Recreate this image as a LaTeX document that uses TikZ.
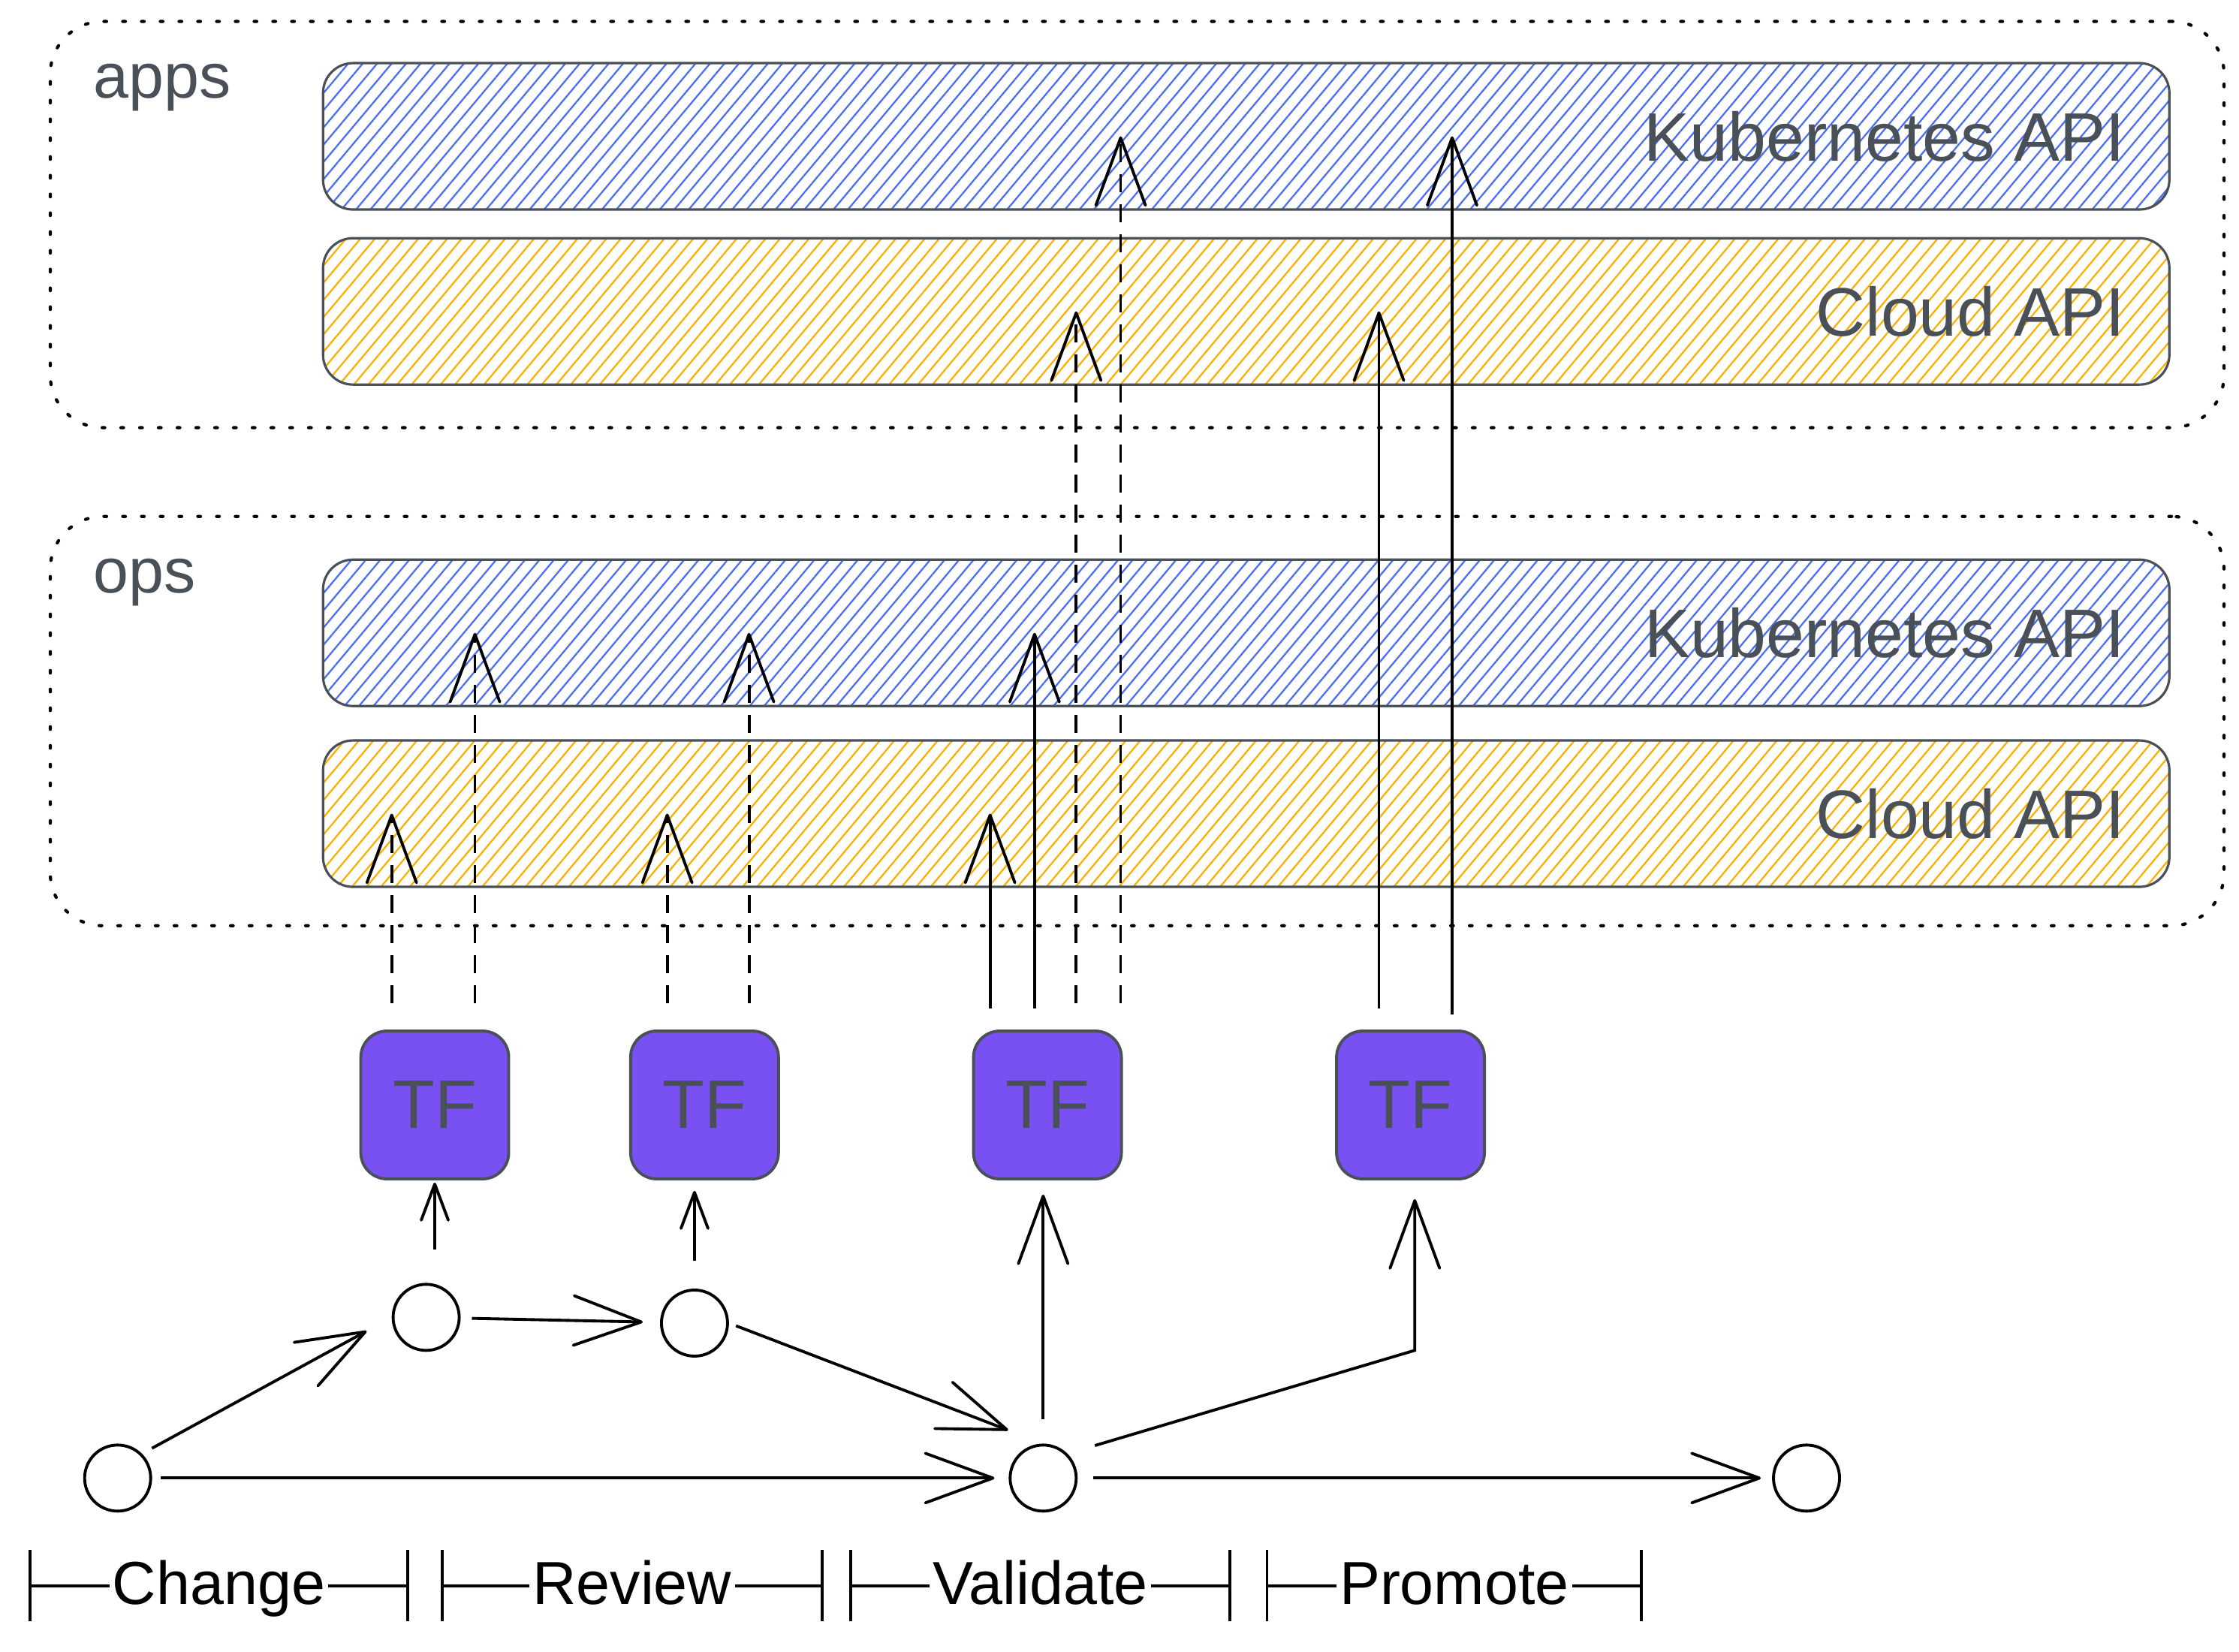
\documentclass[tikz,border=0pt]{standalone}
\usepackage{fontspec}
\setmainfont{Liberation Sans}
\usetikzlibrary{arrows.meta,positioning,patterns.meta,calc}

\definecolor{k8sblue}{HTML}{4C6EF5}
\definecolor{cloudyellow}{HTML}{FAB005}
\definecolor{tfviolet}{HTML}{7950F2}
\definecolor{inkgray}{HTML}{495057}

\tikzset{
  zonebox/.style={draw=black, line width=1.2pt, dash pattern=on 0.35mm off 2.15mm, line cap=round,
    rounded corners=7mm, minimum width=289.5mm, inner sep=0pt},
  zonelabel/.style={text=inkgray, font=\fontsize{24}{28}\selectfont, anchor=west, inner sep=0pt},
  apibar/.style={draw=inkgray, line width=0.9pt, rounded corners=4mm, minimum width=245.9mm,
    minimum height=19.5mm, inner sep=0pt},
  k8sbar/.style={apibar, pattern={Lines[angle=50,distance=4.2pt,line width=0.65pt]}, pattern color=k8sblue},
  cloudbar/.style={apibar, pattern={Lines[angle=50,distance=4.2pt,line width=0.65pt]}, pattern color=cloudyellow},
  apilabel/.style={text=inkgray, font=\fontsize{26}{30}\selectfont, inner sep=0pt},
  tfbox/.style={draw=inkgray, fill=tfviolet, line width=1.1pt, rounded corners=3.5mm, minimum size=19.7mm,
    text=inkgray, font=\fontsize{26}{30}\selectfont},
  stage/.style={draw, circle, line width=1.1pt, minimum size=8.8mm, inner sep=0pt},
  flow/.style={line width=1.1pt, -{Straight Barb[length=9mm,width=6.6mm,round]}},
  trigger/.style={line width=1.1pt, -{Straight Barb[length=4.8mm,width=3.6mm,round]}},
  plan/.style={flow, dash pattern=on 2.4mm off 1.6mm},
  phase/.style={font=\fontsize{23}{27}\selectfont, inner sep=1pt, anchor=base},
  phaseline/.style={line width=1.1pt, -{Bar[width=9.5mm]}},
}

\begin{document}
\begin{tikzpicture}[x=0.1911mm, y=-0.1911mm]
  \useasboundingbox (0,0) rectangle (1560.4,1150.7);

  \node[zonebox, minimum height=54.1mm] (apps) at (792.5,156.5) {};
  \node[zonelabel] (appslbl) at (65,61) {apps};
  \node[k8sbar] (appsk8s) at (868.5,95) {};
  \node[apilabel, left=6mm of appsk8s.east] {Kubernetes API};
  \node[cloudbar] (appscloud) at (868.5,217) {};
  \node[apilabel, left=6mm of appscloud.east] {Cloud API};

  \node[zonebox, minimum height=54.5mm] (ops) at (792.5,502.5) {};
  \node[zonelabel] (opslbl) at (65,406) {ops};
  \node[k8sbar] (opsk8s) at (868.5,441) {};
  \node[apilabel, left=6mm of opsk8s.east] {Kubernetes API};
  \node[cloudbar] (opscloud) at (868.5,567) {};
  \node[apilabel, left=6mm of opscloud.east] {Cloud API};

  \node[tfbox] (tf1) at (303,770) {TF};
  \node[tfbox] (tf2) at (491,770) {TF};
  \node[tfbox] (tf3) at (730,770) {TF};
  \node[tfbox] (tf4) at (983,770) {TF};

  \coordinate (a1) at (273,699);
  \coordinate (a2) at (331,699);
  \coordinate (b1) at (465,699);
  \coordinate (b2) at (522,699);
  \coordinate (v1) at (690,703);
  \coordinate (v2) at (721,703);
  \coordinate (v3) at (750,699);
  \coordinate (v4) at (781,699);
  \coordinate (p1) at (961,703);
  \coordinate (p2) at (1012,707);

  \draw[plan] (a1) -- (a1 |- opscloud);
  \draw[plan] (a2) -- (a2 |- opsk8s);
  \draw[plan] (b1) -- (b1 |- opscloud);
  \draw[plan] (b2) -- (b2 |- opsk8s);
  \draw[flow] (v1) -- (v1 |- opscloud);
  \draw[flow] (v2) -- (v2 |- opsk8s);
  \draw[plan] (v3) -- (v3 |- appscloud);
  \draw[plan] (v4) -- (v4 |- appsk8s);
  \draw[flow] (p1) -- (p1 |- appscloud);
  \draw[flow] (p2) -- (p2 |- appsk8s);

  \node[stage] (cstart) at (82,1030) {};
  \node[stage] (cchange) at (297,918) {};
  \node[stage] (creview) at (484,922) {};
  \node[stage] (cvalid) at (727,1030) {};
  \node[stage] (cdone) at (1259,1030) {};
  \coordinate (bend4) at (986,941);

  \draw[flow, shorten <=1.5mm, shorten >=3.8mm] (cstart.north east) -- (cchange.west);
  \draw[flow, shorten <=1.1mm, shorten >=1.9mm] (cstart) -- (cvalid);
  \draw[flow, shorten <=1.5mm, shorten >=2.3mm] (cchange) -- (creview);
  \draw[flow, shorten <=1mm, shorten >=5mm] (creview.east) -- (cvalid.north);
  \draw[flow, shorten <=2.1mm, shorten >=1.5mm] (cvalid) -- (cdone);
  \draw[trigger, shorten <=4.4mm, shorten >=0.3mm] (tf1.south |- cchange.north) -- (tf1.south);
  \draw[trigger, shorten <=3.7mm, shorten >=1.4mm] (creview.north) -- (creview.north |- tf2.south);
  \draw[flow, shorten <=3.2mm, shorten >=1.9mm] (cvalid.north) -- (cvalid.north |- tf3.south);
  \draw[flow, shorten <=3.8mm, shorten >=2.5mm] (cvalid.north east) -- (bend4) -- (bend4 |- tf4.south);

  \foreach \lbl/\from/\to in {Change/20/285, Review/307/574, Validate/592/858, Promote/882/1145} {
    \coordinate (\lbl-l) at (\from,1105);
    \coordinate (\lbl-r) at (\to,1105);
    \node[phase] (\lbl) at ({(\from+\to)/2},1118) {\lbl};
    \draw[phaseline] (\lbl.west |- \lbl-l) -- (\lbl-l);
    \draw[phaseline] (\lbl.east |- \lbl-r) -- (\lbl-r);
  }
\end{tikzpicture}
\end{document}
